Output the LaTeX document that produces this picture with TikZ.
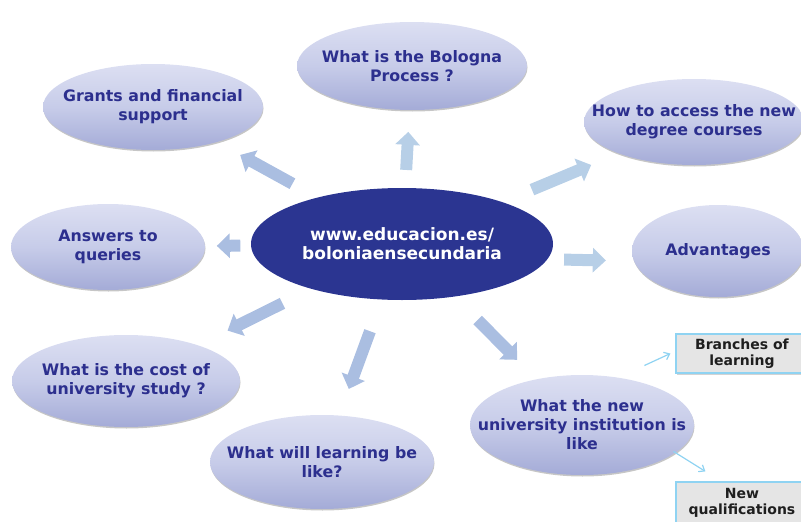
\documentclass[tikz,border=0pt]{standalone}
\usepackage{fontspec}
\setmainfont{DejaVu Sans}
\usetikzlibrary{positioning,calc,arrows.meta,shapes.geometric,shadows}
\definecolor{hubblue}{HTML}{2B3591}
\definecolor{bubtext}{HTML}{2C2F8E}
\definecolor{bubtop}{HTML}{DCDFF2}
\definecolor{bubmid}{HTML}{C7CCE9}
\definecolor{bubbot}{HTML}{A4ABD7}
\definecolor{arrA}{HTML}{B7CFE7}
\definecolor{arrB}{HTML}{AABEE1}
\definecolor{linkblue}{HTML}{8FD3F2}

\begin{document}
\begin{tikzpicture}[x=1pt,y=-1pt,
  bubble/.style={ellipse,inner xsep=-50pt,inner ysep=-8pt,align=center,
    top color=bubtop,bottom color=bubbot,middle color=bubmid,
    drop shadow={opacity=0.45,shadow xshift=0.5pt,shadow yshift=-1.5pt},
    text=bubtext,font=\bfseries\fontsize{15.8}{19}\selectfont},
  hubstyle/.style={ellipse,inner xsep=-60pt,inner ysep=-8pt,align=center,
    fill=hubblue,text=white,minimum width=302pt,minimum height=112pt,
    font=\bfseries\fontsize{17}{19}\selectfont},
  infobox/.style={draw=linkblue,line width=1.2pt,fill=black!10,align=center,
    minimum width=132pt,inner sep=2pt,text=black!88,
    drop shadow={opacity=0.35,shadow xshift=1pt,shadow yshift=-1.5pt},
    font=\bfseries\fontsize{14}{15.5}\selectfont},
  fat/.style={line width=12pt,-{Triangle[width=24pt,length=13pt]}},
  thinlink/.style={draw=linkblue,line width=1.2pt,-{Straight Barb[length=5pt,width=8pt]}}]
  \useasboundingbox (0,0) rectangle (801,522);
  % hub in the middle
  \node[hubstyle] (hub) at (402,244) {www.educacion.es/\\boloniaensecundaria};
  % topic bubbles round the hub
  \foreach \n/\x/\y/\rx/\ry/\lab in {
      bologna/412/66/115/44/{What is the Bologna\\Process ?},
      grants/153/107/110/43/{Grants and financial\\support},
      access/694/122/110/43/{How to access the new\\degree courses},
      answers/108/247/97/43/{Answers to\\queries},
      adv/718/251/86/46/{Advantages},
      cost/126/381/114/46/{What is the cost of\\university study ?},
      learn/322/462/112/47/{What will learning be\\like?},
      inst/582/425/112/50/{What the new\\university institution is\\like}}{
    \node[bubble,minimum width=2*\rx pt,minimum height=2*\ry pt] (\n) at (\x,\y) {\lab};
  }
  % fat arrows from the hub
  \foreach \n/\a/\b/\dy/\c in {bologna/0.416/0.63/0/arrA,grants/0.44/0.65/0/arrB,
      access/0.445/0.648/0/arrA,answers/0.55/0.63/0/arrB,adv/0.513/0.645/12/arrA,
      cost/0.433/0.632/0/arrB,learn/0.40/0.665/0/arrB,inst/0.42/0.64/0/arrB}{
    \draw[fat,\c] ($(hub)!\a!(\n)+(0,\dy)$) -- ($(hub)!\b!(\n)+(0,\dy)$);
  }
  % side boxes
  \node[infobox,minimum height=39pt] (branches) at (742,353.5) {Branches of\\learning};
  \node[infobox,minimum height=42pt] (newq) at (742,503) {New\\qualifications};
  \draw[thinlink] ($(branches.west)+(-31,12)$) -- ($(branches.west)+(-5,0)$);
  \draw[thinlink] ($(newq.north west)+(-2,-30)$) -- ($(newq.north west)+(30,-10)$);
\end{tikzpicture}
\end{document}
